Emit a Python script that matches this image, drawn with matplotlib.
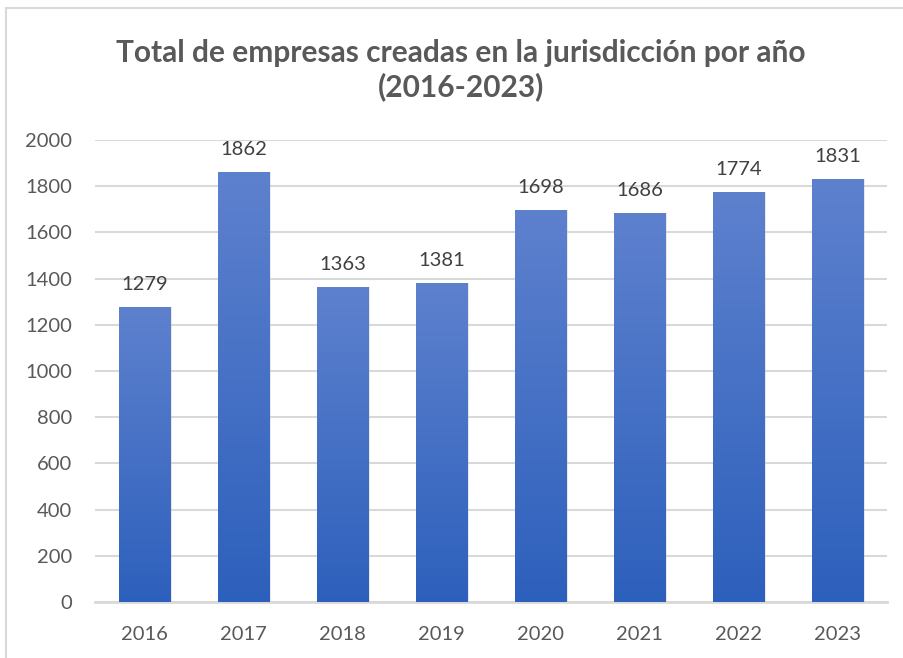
import matplotlib
matplotlib.use("Agg")
import matplotlib.pyplot as plt
import numpy as np
from matplotlib.patches import Rectangle

years = ["2016", "2017", "2018", "2019", "2020", "2021", "2022", "2023"]
values = [1279, 1862, 1363, 1381, 1698, 1686, 1774, 1831]
yticks = [0, 200, 400, 600, 800, 1000, 1200, 1400, 1600, 1800, 2000]
title = "Total de empresas creadas en la jurisdicción por año\n(2016-2023)"

plt.rcParams['font.family'] = ['Lato', 'DejaVu Sans']

fig = plt.figure(figsize=(9.04, 6.58), dpi=100)
fig.patch.set_facecolor("white")

# outer chart frame
fig.patches.append(Rectangle((6/904, -0.1), 1.0, 1 - 8/658 + 0.1, transform=fig.transFigure,
                             fill=False, edgecolor="#d9d9d9", linewidth=1.5))

ax = fig.add_axes([95/904, 1 - 602/658, (887 - 95)/904, (602 - 140)/658])
x = np.arange(len(years))
width = 0.525

# shadow
ax.bar(x + 0.02, values, width=width, color="#bfbfbf", alpha=0.35, zorder=2)
bars = ax.bar(x, values, width=width, color="#4472c4", zorder=3)

top = np.array([94, 129, 206]) / 255
bot = np.array([45, 96, 188]) / 255
grad = np.linspace(0, 1, 256)[:, None]
img = (bot[None, None, :] * (1 - grad[..., None]) + top[None, None, :] * grad[..., None])
for b in bars:
    x0 = b.get_x(); w = b.get_width(); h = b.get_height()
    im = ax.imshow(img, extent=[x0, x0 + w, 0, h], origin="lower", aspect="auto", zorder=4)
    im.set_clip_path(b)

for xi, v in zip(x, values):
    ax.annotate(str(v), (xi, v), xytext=(0, 10), textcoords="offset points",
                ha="center", va="bottom", fontsize=14.5, color="#404040", zorder=5)

ax.set_xlim(-0.5, len(years) - 0.5)
ax.set_ylim(0, 2000)
ax.set_yticks(yticks)
ax.set_yticklabels([str(t) for t in yticks])
ax.set_xticks(x)
ax.set_xticklabels(years)
ax.tick_params(axis="both", length=0, labelsize=14.5, labelcolor="#595959")
ax.tick_params(axis="y", pad=16.5)
ax.tick_params(axis="x", pad=17)
ax.grid(axis="y", color="#d9d9d9", linewidth=1.5, zorder=0)
ax.set_axisbelow(True)
for s in ["top", "right", "left"]:
    ax.spines[s].set_visible(False)
ax.spines["bottom"].set_color("#d9d9d9")
ax.spines["bottom"].set_linewidth(2)
ax.spines["bottom"].set_zorder(1)

fig.text(461/904, 1 - 70/658, title, ha="center", va="center", fontsize=21.5,
         fontweight="bold", color="#595959", linespacing=1.2)

fig.savefig("out.png", dpi=100)
